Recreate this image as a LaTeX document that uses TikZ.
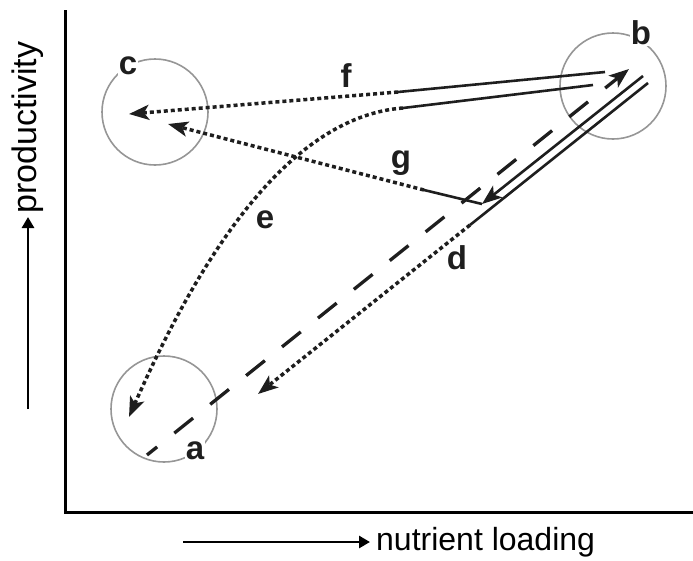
\documentclass[tikz,border=0pt]{standalone}
\usepackage{fontspec}
\setmainfont{Liberation Sans}
\usetikzlibrary{arrows.meta}
\definecolor{inkdark}{RGB}{30,30,30}
\definecolor{ringgray}{RGB}{150,150,150}

\begin{document}
\begin{tikzpicture}[
  x=1pt, y=-1pt,
  ring/.style={
    circle,
    draw=ringgray,
    line width=1.6pt,
    minimum size=106pt,
    inner sep=0pt
  },
  tag/.style={
    font=\fontsize{33}{38}\selectfont\bfseries,
    text=inkdark,
    fill=white,
    inner sep=1pt
  },
  solidline/.style={
    inkdark,
    line width=2.6pt
  },
  dotline/.style={
    inkdark,
    line width=3.5pt,
    dash pattern=on 4pt off 3pt
  },
  dashline/.style={
    inkdark,
    line width=3.3pt,
    dash pattern=on 24pt off 22pt,
    dash phase=11pt
  },
  tip/.style={
    -{Stealth[length=20pt,width=15pt,inset=5pt]}
  },
  axis/.style={
    black,
    line width=3pt
  }
]
\useasboundingbox (0,0) rectangle (693,560);

% axes
\coordinate (origin) at (65,512);
\coordinate (ytop) at (65,10);
\coordinate (xend) at (693,512);
\draw[axis] (ytop) -- (origin) -- (xend);

% axis captions
\coordinate (yfrom) at (28,409);
\coordinate (yto) at (28,217);
\draw[line width=2.8pt, -{Triangle[length=11pt,width=12pt]}] (yfrom) -- (yto);
\node[rotate=90, anchor=west, font=\fontsize{34}{40}\selectfont, inner sep=0pt] (ylab) at (28,214) {productivity};

\coordinate (xfrom) at (183,542);
\coordinate (xto) at (370,542);
\draw[line width=2.8pt, -{Triangle[length=11pt,width=12pt]}] (xfrom) -- (xto);
\node[anchor=west, font=\fontsize{32}{38}\selectfont, inner sep=0pt] (xlab) at (376,542) {nutrient loading};

% states
\node[ring] (ringa) at (164,409) {};
\node[ring] (ringb) at (613,86) {};
\node[ring] (ringc) at (155,112) {};

% points of the paths
\coordinate (da) at (147,455);
\coordinate (db) at (629,69);
\coordinate (d1) at (648,83);
\coordinate (d2) at (470,225);
\coordinate (d3) at (258,394);
\coordinate (i1) at (643,76);
\coordinate (gv) at (482,204);
\coordinate (g2) at (424,190);
\coordinate (g3) at (168,124);
\coordinate (f1) at (605,72);
\coordinate (f2) at (398,92);
\coordinate (f3) at (129,114);
\coordinate (e1) at (593,85);
\coordinate (e2) at (403,108);
\coordinate (e3) at (129,417);

% eutrophication a to b
\draw[dashline, tip] (da) -- (db);

% d: back towards a
\draw[solidline] (d1) -- (d2);
\draw[dotline, tip] (d2) -- (d3);

% return leg and g
\draw[solidline, tip] (i1) -- (gv);
\draw[solidline] (gv) -- (g2);
\draw[dotline, tip] (g2) -- (g3);

% f
\draw[solidline] (f1) -- (f2);
\draw[dotline, tip] (f2) -- (f3);

% e
\draw[solidline] (e1) -- (e2);
\draw[dotline, tip] (e2) .. controls (310,115) and (220,210) .. (e3);

% labels
\node[tag] (taga) at (195,451) {a};
\node[tag] (tagb) at (641,33) {b};
\node[tag] (tagc) at (128,66) {c};
\node[tag, fill=none] (tagd) at (457,258) {d};
\node[tag, fill=none] (tage) at (265,220) {e};
\node[tag, fill=none] (tagf) at (346,76) {f};
\node[tag, fill=none] (tagg) at (401,163) {g};

\end{tikzpicture}
\end{document}
